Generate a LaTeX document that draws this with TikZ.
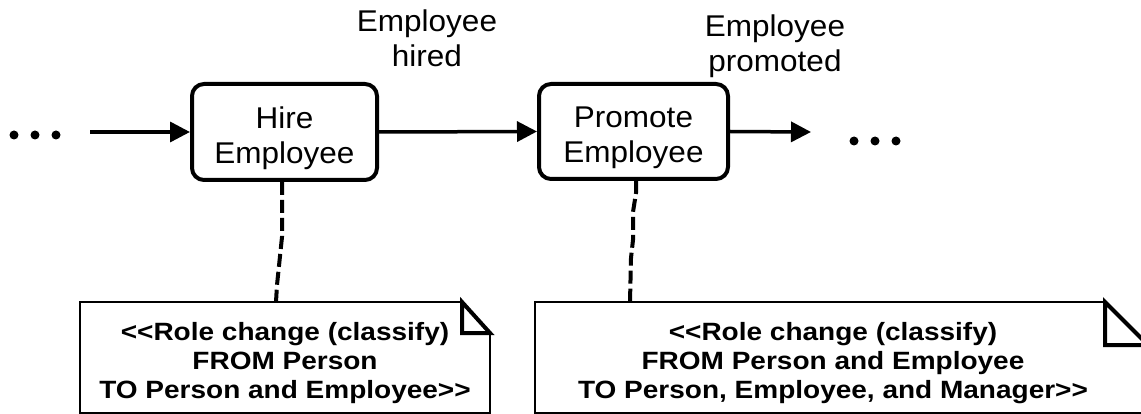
\documentclass[tikz,border=0pt]{standalone}
\usepackage{fontspec}
\setmainfont{Liberation Sans}
\newfontfamily\lblfont[FakeStretch=1.05]{Liberation Sans}
\newfontfamily\notefont[FakeStretch=1.12]{Liberation Sans}
\usetikzlibrary{arrows.meta}
\begin{document}
\begin{tikzpicture}[x=1pt,y=-1pt,
  proc/.style={draw,line width=4pt,rounded corners=12pt,align=center,
    font=\lblfont\fontsize{30}{35}\selectfont,inner sep=0pt},
  lbl/.style={align=center,font=\lblfont\fontsize{30}{35}\selectfont,inner sep=0pt},
  flow/.style={line width=3.5pt,-{Triangle[length=20pt,width=20pt]}},
  notetext/.style={align=center,font=\notefont\bfseries\fontsize{25}{29}\selectfont,inner sep=0pt},
  noteline/.style={line width=2pt},
  fold/.style={line width=4pt,line join=miter},
  link/.style={line width=4pt,dash pattern=on 13pt off 5pt},
  dot/.style={circle,fill,inner sep=0pt,minimum size=9pt}]
\useasboundingbox (0,0) rectangle (1141,414);

% process boxes
\node[proc,minimum width=185pt,minimum height=96pt] (hire) at (284.5,132)
  {\rule{0pt}{33.5pt}Hire\\Employee};
\node[proc,minimum width=189pt,minimum height=95pt] (promote) at (633.5,131.5)
  {\rule{0pt}{33.5pt}Promote\\Employee};

% dots
\node[dot] (l1) at (14,135) {};
\node[dot] (l2) at (35,135) {};
\node[dot] (l3) at (56,135) {};
\node[dot] (r1) at (854,141) {};
\node[dot] (r2) at (875,141) {};
\node[dot] (r3) at (896,141) {};

% flow arrows
\coordinate (start) at (90,132);
\coordinate (finish) at (811,132);
\draw[flow] (start) -- (hire.west);
\draw[flow] (hire.east) -- (promote.west);
\draw[flow] (promote.east) -- (finish);

% event labels
\node[lbl] (ev1) at (427,38.5) {Employee\\hired};
\node[lbl] (ev2) at (775,46.5) {Employee\\promoted};

% notes
\coordinate (n1a) at (276,302);
\coordinate (n2a) at (630,302);
\draw[noteline] (462,302) -- (80,302) -- (80,413) -- (490,413) -- (490,333);
\draw[fold] (462,302) -- (462,333) -- (490,333) -- cycle;
\draw[noteline] (1105,302) -- (535,302) -- (535,413) -- (1148,413) -- (1148,345);
\draw[fold] (1105,302) -- (1105,345) -- (1148,345) -- cycle;

\node[notetext] (n1) at (285,363.5)
  {<{}<Role change (classify)\\FROM Person\\TO Person and Employee>{}>};
\node[notetext] (n2) at (833,363.5)
  {<{}<Role change (classify)\\FROM Person and Employee\\TO Person, Employee, and Manager>{}>};

% dashed links
\draw[link] ([xshift=-2.5pt]hire.south) -- ++(0,55) -- (277,285) -- (n1a);
\draw[link] ([xshift=2.5pt]promote.south) -- ++(0,12) -- (633,212) -- (633,240) -- (631,258) -- (n2a);
\end{tikzpicture}
\end{document}
